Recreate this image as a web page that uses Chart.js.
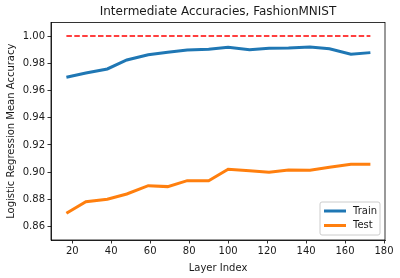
<!DOCTYPE html>
<html>
<head>
<meta charset="utf-8">
<script src="https://cdn.jsdelivr.net/npm/chart.js@4.4.0/dist/chart.umd.min.js"></script>
<style>
  html, body { margin: 0; padding: 0; background: #fff; }
</style>
</head>
<body>
<canvas id="chart" width="400" height="278"></canvas>
<script>
const layerIndex = [17, 27, 38, 48, 59, 69, 79, 90, 100, 111, 121, 131, 142, 152, 163, 173];
const trainAcc = [0.9697, 0.9728, 0.9758, 0.9824, 0.9863, 0.9880, 0.9897, 0.9902, 0.9917, 0.9900, 0.9910, 0.9912, 0.9919, 0.9907, 0.9866, 0.9878];
const testAcc = [0.8698, 0.8783, 0.8801, 0.8840, 0.8901, 0.8894, 0.8938, 0.8937, 0.9021, 0.9011, 0.8999, 0.9016, 0.9014, 0.9036, 0.9058, 0.9058];
const targetAcc = 1.0;
const xTicks = [20, 40, 60, 80, 100, 120, 140, 160, 180];
const yTicks = [0.86, 0.88, 0.90, 0.92, 0.94, 0.96, 0.98, 1.00];

const FONT = 'DejaVu Sans';
const INK = '#1a1a1a';

function points(ys) {
  return layerIndex.map((x, i) => ({ x, y: ys[i] }));
}

// matplotlib style frame + legend box in lower right
const mplExtras = {
  id: 'mplExtras',
  afterDraw(chart) {
    const ctx = chart.ctx;
    const a = chart.chartArea;
    ctx.save();
    ctx.strokeStyle = '#000';
    ctx.lineWidth = 0.8;
    ctx.strokeRect(a.left, a.top, a.right - a.left, a.bottom - a.top);

    const entries = chart.data.datasets.filter(d => d.label);
    const w = 60, h = 33;
    const x = a.right - 5 - w, y = a.bottom - 5 - h;
    ctx.beginPath();
    ctx.roundRect(x, y, w, h, 2);
    ctx.fillStyle = 'rgba(255,255,255,0.8)';
    ctx.fill();
    ctx.strokeStyle = '#cccccc';
    ctx.lineWidth = 1;
    ctx.stroke();
    ctx.font = '10px "' + FONT + '"';
    ctx.textBaseline = 'middle';
    entries.forEach((d, i) => {
      const cy = y + 9 + i * 14.5;
      ctx.beginPath();
      ctx.moveTo(x + 4, cy);
      ctx.lineTo(x + 26, cy);
      ctx.strokeStyle = d.borderColor;
      ctx.lineWidth = 3;
      ctx.stroke();
      ctx.fillStyle = INK;
      ctx.fillText(d.label, x + 33, cy);
    });
    ctx.restore();
  }
};

new Chart(document.getElementById('chart'), {
  type: 'line',
  data: {
    datasets: [
      {
        label: 'Train',
        data: points(trainAcc),
        borderColor: '#1f77b4',
        borderWidth: 3,
        pointRadius: 0,
        tension: 0,
        fill: false
      },
      {
        label: 'Test',
        data: points(testAcc),
        borderColor: '#ff7f0e',
        borderWidth: 3,
        pointRadius: 0,
        tension: 0,
        fill: false
      },
      {
        label: '',
        data: [{ x: layerIndex[0], y: targetAcc }, { x: layerIndex[layerIndex.length - 1], y: targetAcc }],
        borderColor: '#ff0000',
        borderWidth: 1.5,
        borderDash: [5.5, 2.4],
        pointRadius: 0,
        fill: false
      }
    ]
  },
  options: {
    responsive: false,
    animation: false,
    layout: { padding: { left: 0, right: 15, top: 0, bottom: 0 } },
    plugins: {
      legend: { display: false },
      tooltip: { enabled: false },
      title: {
        display: true,
        fullSize: false,
        text: 'Intermediate Accuracies, FashionMNIST',
        color: INK,
        font: { family: FONT, size: 12, weight: 'normal' },
        padding: { top: 5, bottom: 3 }
      }
    },
    scales: {
      x: {
        type: 'linear',
        min: 9.1,
        max: 180.5,
        afterBuildTicks: s => { s.ticks = xTicks.map(v => ({ value: v })); },
        afterFit: s => { s.height = 38; },
        ticks: { color: INK, font: { family: FONT, size: 10 }, padding: 2, maxRotation: 0, autoSkip: false },
        grid: { drawOnChartArea: false, tickLength: 3.5, color: '#000', lineWidth: 0.8 },
        border: { color: '#000', width: 0.8 },
        title: { display: true, text: 'Layer Index', color: INK, font: { family: FONT, size: 10 }, padding: { top: 0, bottom: 4 } }
      },
      y: {
        type: 'linear',
        min: 0.8502,
        max: 1.0100,
        afterBuildTicks: s => { s.ticks = yTicks.map(v => ({ value: v })); },
        afterFit: s => { s.width = 51; },
        ticks: { color: INK, font: { family: FONT, size: 10 }, padding: 2.5, callback: v => v.toFixed(2) },
        grid: { drawOnChartArea: false, tickLength: 3.5, color: '#000', lineWidth: 0.8 },
        border: { color: '#000', width: 0.8 },
        title: { display: true, text: 'Logistic Regression Mean Accuracy', color: INK, font: { family: FONT, size: 10 }, padding: { top: 5, bottom: 0 } }
      }
    }
  },
  plugins: [mplExtras]
});
</script>
</body>
</html>
